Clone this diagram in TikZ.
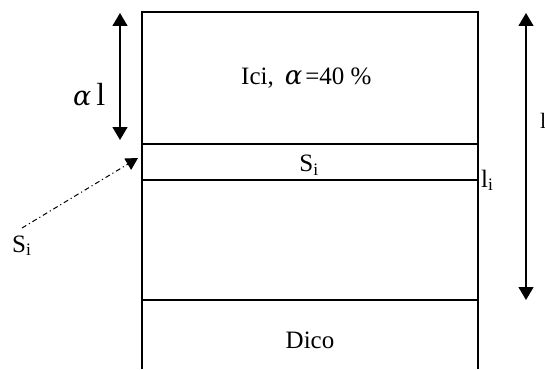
\RequirePackage{fix-cm}
\documentclass[tikz,border=0pt]{standalone}
\usepackage{fontspec}
\setmainfont{Liberation Serif}
\newfontfamily\alfont{DejaVu Serif}
\usetikzlibrary{arrows.meta}
\begin{document}
\begin{tikzpicture}[x=1pt,y=-1pt,
  frame/.style={line width=1.3pt},
  dimarrow/.style={line width=1.3pt,{Triangle[width=15pt,length=13pt]}-{Triangle[width=15pt,length=13pt]}},
  pointer/.style={line width=1pt,dash pattern=on 5pt off 3pt on 1.2pt off 3pt,-{Triangle[width=13pt,length=12pt]}},
  lab/.style={font=\fontsize{25}{29}\selectfont, inner sep=0pt, anchor=base},
  biglab/.style={font=\fontsize{32}{36}\selectfont, inner sep=0pt, anchor=base west}]
\useasboundingbox (0,0) rectangle (545,369);
% frame
\coordinate (bl) at (142,369);
\coordinate (tl) at (142,12);
\coordinate (tr) at (478,12);
\coordinate (br) at (478,369);
\draw[frame] (bl) -- (tl) -- (tr) -- (br);
\coordinate (a1) at (142,144); \coordinate (b1) at (478,144);
\coordinate (a2) at (142,180); \coordinate (b2) at (478,180);
\coordinate (a3) at (142,300); \coordinate (b3) at (478,300);
\draw[frame] (a1) -- (b1);
\draw[frame] (a2) -- (b2);
\draw[frame] (a3) -- (b3);
% texts
\node[lab,anchor=base west] (ici) at (241,84) {Ici,\hspace{11pt}{\alfont\itshape\fontsize{26}{28}\selectfont α}\hspace{3pt}=40 \%};
\node[lab] (sibox) at (309,171.5) {S\textsubscript{i}};
\node[lab] (dico) at (310,348) {Dico};
\node[lab,anchor=base west] (li) at (481,187) {l\textsubscript{i}};
\node[biglab] (al) at (73,105) {{\alfont\itshape\fontsize{27}{30}\selectfont α}\hspace{5pt}l};
\node[lab,anchor=base west] (sileft) at (12,252) {S\textsubscript{i}};
\node[anchor=base west,inner sep=0pt,font=\fontsize{22}{26}\selectfont] (ltot) at (540,128) {l};
% dimension arrows
\coordinate (lt) at (120,13); \coordinate (lb) at (120,140);
\draw[dimarrow] (lt) -- (lb);
\coordinate (rt) at (526,13); \coordinate (rb) at (526,300);
\draw[dimarrow] (rt) -- (rb);
% pointer
\coordinate (ps) at (22,228); \coordinate (pe) at (138,158);
\draw[pointer] (ps) -- (pe);
\end{tikzpicture}
\end{document}
